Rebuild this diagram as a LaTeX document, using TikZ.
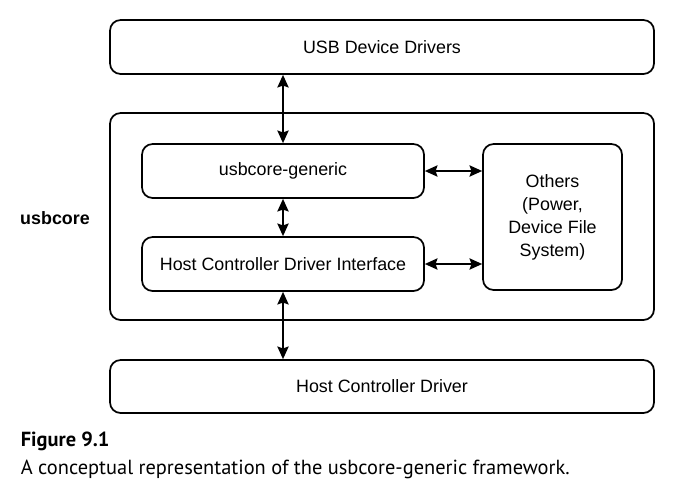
\documentclass[tikz,border=0pt]{standalone}
\usepackage{fontspec}
\setmainfont{Liberation Sans}
\newfontfamily\capfont{PT Sans}
\usetikzlibrary{arrows.meta}

\begin{document}
\begin{tikzpicture}[x=0.75pt,y=-0.75pt,line width=1.3pt,
        >={Stealth[length=9.5pt,width=8.5pt,inset=1.5pt]},
        block/.style={draw,rounded corners=8pt,align=center,
                      font=\fontsize{13.4}{17.2}\selectfont},
        caption/.style={anchor=base west,inner sep=0pt,
                        font=\capfont\fontsize{15.3}{18}\selectfont}]
        \useasboundingbox (0,0) rectangle (685,489);

        % the three layers
        \node[block,minimum width=408pt,minimum height=40.5pt] (usbdrv) at (382,47) {USB Device Drivers};
        \node[block,minimum width=408pt,minimum height=155.25pt] (core) at (382,216.5) {};
        \node[block,minimum width=408pt,minimum height=39.75pt] (hcd) at (382,386.5) {Host Controller Driver};

        % the blocks inside usbcore
        \node[block,minimum width=211.5pt,minimum height=40.5pt] (generic) at (283,171) {usbcore-generic};
        \node[block,minimum width=211.5pt,minimum height=40.5pt] (hcdi) at (283,264) {Host Controller Driver Interface};
        \node[block,minimum width=104.25pt,minimum height=109.5pt] (others) at (552.5,217)
                {Others\\(Power,\\Device File\\System)};

        % name of the core
        \node[font=\bfseries\fontsize{13.4}{16}\selectfont] (corename) at (55,218) {usbcore};

        % vertical arrows
        \draw[<->] (generic.north |- usbdrv.south) -- (generic.north);
        \draw[<->] (generic.south) -- (hcdi.north);
        \draw[<->] (hcdi.south) -- (hcdi.south |- hcd.north);
        % horizontal arrows to the others
        \foreach \n in {generic,hcdi}
                \draw[<->] (\n.east) -- (\n.east -| others.west);

        % the caption
        \node[caption,font=\capfont\bfseries\fontsize{15.3}{18}\selectfont] (fignum) at (20,446) {Figure 9.1};
        \node[caption] (figtext) at (20,474) {A conceptual representation of the usbcore-generic framework.};
\end{tikzpicture}
\end{document}
